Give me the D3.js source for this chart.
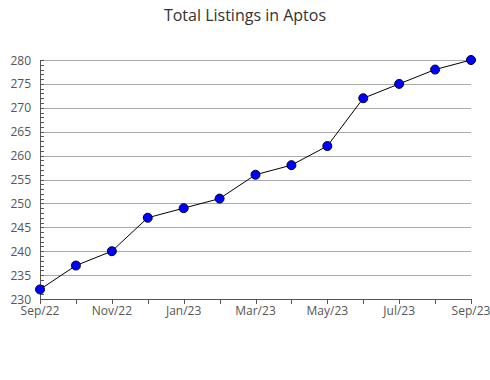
<!DOCTYPE html>
<html><head><meta charset="utf-8">
<script src="https://cdn.jsdelivr.net/npm/d3@7"></script>
<style>body{margin:0;background:#fff}svg{display:block}text{font-family:"Open Sans",sans-serif}</style>
</head><body>
<script>
const months = ["Sep/22","Oct/22","Nov/22","Dec/22","Jan/23","Feb/23","Mar/23","Apr/23","May/23","Jun/23","Jul/23","Aug/23","Sep/23"];
const values = [232,237,240,247,249,251,256,258,262,272,275,278,280];
const yTicks = [230,235,240,245,250,255,260,265,270,275,280];
const xLabels = ["Sep/22","Nov/22","Jan/23","Mar/23","May/23","Jul/23","Sep/23"];
const title = "Total Listings in Aptos";

const W=490,H=380, L=40, R=471, T=60, B=299;
const svg=d3.select("body").append("svg").attr("width",W).attr("height",H);
const x=d3.scalePoint().domain(months).range([L,R]);
const y=d3.scaleLinear().domain([230,280]).range([B,T]);

svg.append("text").attr("x",245).attr("y",21).attr("text-anchor","middle")
  .attr("font-size",16).attr("fill","#333").text(title);

// gridlines
svg.append("g").selectAll("line").data(yTicks.filter(d=>d>230)).join("line")
  .attr("x1",L).attr("x2",R).attr("y1",d=>Math.round(y(d))+0.5).attr("y2",d=>Math.round(y(d))+0.5)
  .attr("stroke","#aaa").attr("stroke-width",1);

// minor y ticks
const minor=d3.range(230,281,1);
svg.append("g").selectAll("line").data(minor).join("line")
  .attr("x1",L).attr("x2",L+4).attr("y1",d=>Math.round(y(d))+0.5).attr("y2",d=>Math.round(y(d))+0.5)
  .attr("stroke","#555");

// y axis line
svg.append("line").attr("x1",L+0.5).attr("x2",L+0.5).attr("y1",T).attr("y2",B).attr("stroke","#555");
// y labels
svg.append("g").selectAll("text").data(yTicks).join("text")
  .attr("x",31).attr("y",d=>y(d)+4.5).attr("text-anchor","end").attr("font-size",12).attr("fill","#555")
  .text(d=>d);

// x axis
svg.append("line").attr("x1",L).attr("x2",R).attr("y1",B+0.5).attr("y2",B+0.5).attr("stroke","#555");
svg.append("g").selectAll("line").data(months).join("line")
  .attr("x1",d=>Math.round(x(d))+0.5).attr("x2",d=>Math.round(x(d))+0.5).attr("y1",B).attr("y2",B+5)
  .attr("stroke","#555");
svg.append("g").selectAll("text").data(xLabels).join("text")
  .attr("x",d=>x(d)).attr("y",B+16).attr("text-anchor","middle").attr("font-size",12).attr("fill","#555")
  .text(d=>d);

// line
svg.append("path").datum(values).attr("fill","none").attr("stroke","#000").attr("stroke-width",1)
  .attr("d",d3.line().x((d,i)=>x(months[i])).y(d=>y(d)));
svg.append("g").selectAll("circle").data(values).join("circle")
  .attr("cx",(d,i)=>x(months[i])).attr("cy",d=>y(d)).attr("r",4.5)
  .attr("fill","#0000ff").attr("stroke","#000033").attr("stroke-width",1);
</script>
</body></html>
